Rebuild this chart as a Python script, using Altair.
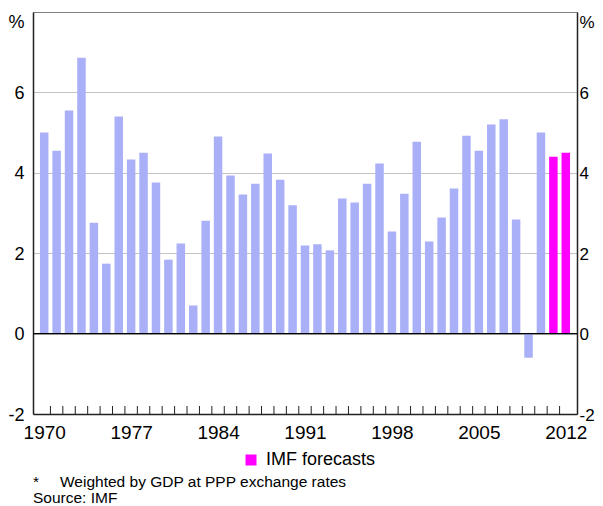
import altair as alt
import pandas as pd

# ---- data ----
years = list(range(1970, 2013))
growth = [5.0, 4.55, 5.55, 6.86, 2.76, 1.74, 5.4, 4.33, 4.5, 3.76,
          1.84, 2.24, 0.7, 2.81, 4.9, 3.93, 3.46, 3.73, 4.48, 3.83,
          3.19, 2.19, 2.22, 2.07, 3.36, 3.26, 3.73, 4.23, 2.54, 3.48,
          4.77, 2.29, 2.89, 3.61, 4.92, 4.55, 5.2, 5.33, 2.84, -0.6,
          5.0, 4.4, 4.5]
forecast_years = [2011, 2012]
series_names = ["Actual", "IMF forecasts"]
series_colors = ["#aab0f8", "#ff00ff"]
x_labels = [1970, 1977, 1984, 1991, 1998, 2005, 2012]
y_labels = [-2, 0, 2, 4, 6]
title_text = "Year-average"
footnote_mark = ["*"]
footnote_text = ["Weighted by GDP at PPP exchange rates"]
source_text = ["Source: IMF"]

FONT = "Liberation Sans"
W, H = 544, 402
PAD_L, PAD_T = 25, 4
SVG_W, SVG_H = 587, 498
HYPHEN_LABEL = "datum.value < 0 ? '-' + abs(datum.value) : datum.label"

df = pd.DataFrame({
    "year": years,
    "value": growth,
    "series": [series_names[1] if y in forecast_years else series_names[0] for y in years],
})
bounds = pd.DataFrame({"b": [y + 0.5 for y in years[:-1]]})
zero_df = pd.DataFrame({"v": [0]})

xscale = alt.Scale(domain=[years[0] - 0.5, years[-1] + 0.5], nice=False, zero=False)
yscale = alt.Scale(domain=[-2, 8], nice=False, zero=False)

bars = alt.Chart(df).mark_bar(width=8.5).encode(
    x=alt.X("year:Q", scale=xscale,
            axis=alt.Axis(orient="bottom", values=x_labels, format="d", title=None,
                          ticks=False, tickSize=0,
                          grid=False, domain=True, domainColor="#222222", domainWidth=1.5,
                          labelFont=FONT, labelFontSize=19, labelColor="#000000",
                          labelPadding=9, labelFlush=False, labelOverlap=False)),
    y=alt.Y("value:Q", scale=yscale,
            axis=alt.Axis(orient="left", values=y_labels, labelExpr=HYPHEN_LABEL,
                          title="%", titleAngle=0,
                          titleX=-9, titleY=10, titleAlign="right", titleBaseline="middle",
                          titleFont=FONT, titleFontSize=18, titleFontWeight="normal",
                          titleColor="#000000",
                          ticks=False, tickSize=0, grid=True, gridColor="#c4c4c4",
                          domain=True, domainColor="#222222", domainWidth=1.5,
                          labelFont=FONT, labelFontSize=18, labelColor="#000000",
                          labelPadding=9, labelOffset=1, labelFlush=False,
                          labelOverlap=False)),
    color=alt.Color("series:N",
                    scale=alt.Scale(domain=series_names, range=series_colors),
                    legend=alt.Legend(values=[series_names[1]], title=None, orient="none",
                                      legendX=209, legendY=439, symbolType="square",
                                      symbolSize=121, symbolStrokeWidth=0,
                                      labelFont=FONT, labelFontSize=18, labelColor="#000000",
                                      labelOffset=6, padding=0)),
)

zero_rule = alt.Chart(zero_df).mark_rule(color="#000000", strokeWidth=1.2).encode(
    y=alt.Y("v:Q", scale=yscale,
            axis=alt.Axis(orient="right", values=y_labels, labelExpr=HYPHEN_LABEL,
                          title="%", titleAngle=0,
                          titleX=2, titleY=10, titleAlign="left", titleBaseline="middle",
                          titleFont=FONT, titleFontSize=17, titleFontWeight="normal",
                          titleColor="#000000",
                          ticks=False, tickSize=0, grid=False,
                          domain=True, domainColor="#222222", domainWidth=1.5,
                          labelFont=FONT, labelFontSize=17, labelColor="#000000",
                          labelPadding=2, labelOffset=1, labelFlush=False,
                          labelOverlap=False)),
)

ticks = alt.Chart(bounds).mark_rule(color="#222222", strokeWidth=1).encode(
    x=alt.X("b:Q", scale=xscale, axis=None),
    y=alt.value(H),
    y2=alt.value(H - 8),
)

def note(lines, x, y):
    return alt.Chart(pd.DataFrame({"t": lines})).mark_text(
        align="left", baseline="alphabetic", font=FONT, fontSize=15.5, color="#000000"
    ).encode(text="t:N", x=alt.value(x), y=alt.value(y))

chart = alt.layer(
    bars, ticks, zero_rule,
    note(footnote_mark, 0, 475),
    note(footnote_text, 27, 475),
    note(source_text, 0, 491),
).resolve_scale(y="independent").resolve_axis(x="independent", y="independent").properties(
    width=W, height=H,
    title=alt.TitleParams(title_text, font=FONT, fontSize=19, fontWeight="normal",
                          color="#000000", anchor="middle", offset=10),
    autosize=alt.AutoSizeParams(type="none"),
    padding={"left": PAD_L, "top": PAD_T,
             "right": SVG_W - PAD_L - W, "bottom": SVG_H - PAD_T - H},
).configure_view(stroke="#808080", strokeWidth=1)

chart.save("out.html", embed_options={"renderer": "svg", "actions": False})
